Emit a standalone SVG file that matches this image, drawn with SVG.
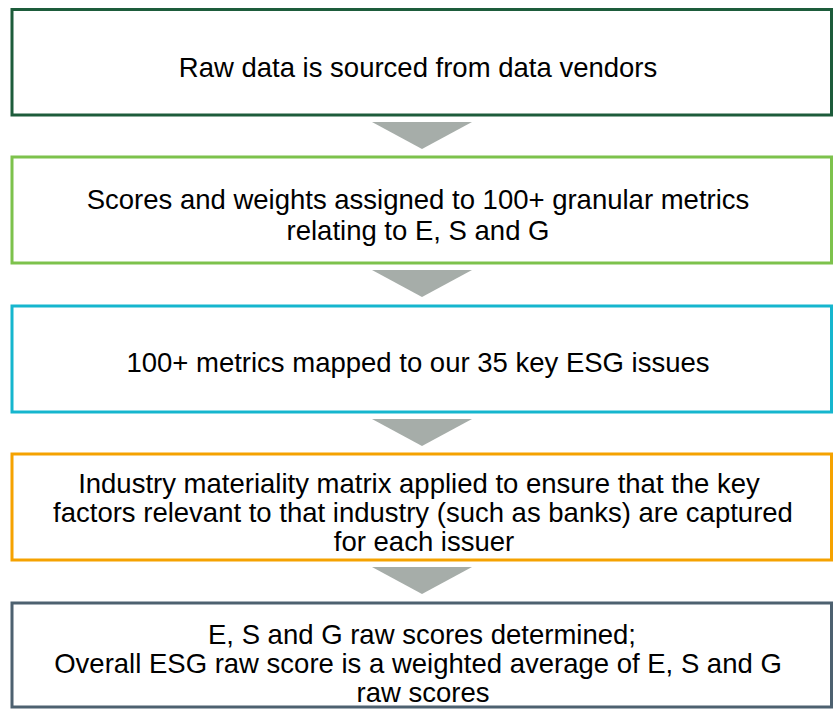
<svg xmlns="http://www.w3.org/2000/svg" width="835" height="712" viewBox="0 0 835 712">
<style>
.box{fill:#fff;stroke-width:3}
.t{font-family:"Liberation Sans",Arial,sans-serif;font-size:27.5px;fill:#000;text-anchor:middle}
.arr{fill:#A6ADA9}
</style>
<rect width="835" height="712" fill="#fff"/>
<g id="connectors">
<polygon class="arr" points="372,122 472,122 422,149"/>
<polygon class="arr" points="372,270 472,270 422,297"/>
<polygon class="arr" points="372,419 472,419 422,446"/>
<polygon class="arr" points="372,567 472,567 422,594"/>
</g>
<g id="n1">
<rect class="box" x="12" y="9.5" width="819.5" height="105.5" stroke="#1D5C3B"/>
<text class="t" x="418" y="77">Raw data is sourced from data vendors</text>
</g>
<g id="n2">
<rect class="box" x="12" y="157" width="819.5" height="106" stroke="#7DC24C"/>
<text class="t" x="418" y="209">Scores and weights assigned to 100+ granular metrics</text>
<text class="t" x="418" y="240">relating to E, S and G</text>
</g>
<g id="n3">
<rect class="box" x="12" y="306" width="819.5" height="106" stroke="#16B6CE"/>
<text class="t" x="418" y="372">100+ metrics mapped to our 35 key ESG issues</text>
</g>
<g id="n4">
<rect class="box" x="12" y="454" width="819.5" height="106" stroke="#F5A200"/>
<text class="t" x="419" y="493">Industry materiality matrix applied to ensure that the key</text>
<text class="t" x="423" y="522">factors relevant to that industry (such as banks) are captured</text>
<text class="t" x="424" y="551">for each issuer</text>
</g>
<g id="n5">
<rect class="box" x="12" y="603" width="819.5" height="104" stroke="#4D6170"/>
<text class="t" x="422" y="644">E, S and G raw scores determined;</text>
<text class="t" x="418" y="673">Overall ESG raw score is a weighted average of E, S and G</text>
<text class="t" x="423" y="702">raw scores</text>
</g>
</svg>
